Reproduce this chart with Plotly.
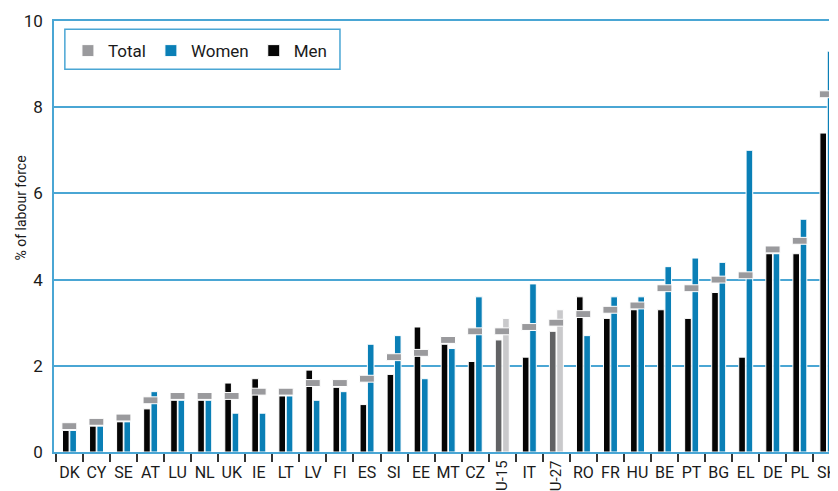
import plotly.graph_objects as go

# Unemployment by sex, % of labour force
countries = ["DK", "CY", "SE", "AT", "LU", "NL", "UK", "IE", "LT", "LV", "FI", "ES", "SI", "EE",
             "MT", "CZ", "EU-15", "IT", "EU-27", "RO", "FR", "HU", "BE", "PT", "BG", "EL", "DE",
             "PL", "SK"]
total = [0.6, 0.7, 0.8, 1.2, 1.3, 1.3, 1.3, 1.4, 1.4, 1.6, 1.6, 1.7, 2.2, 2.3, 2.6, 2.8,
         2.8, 2.9, 3.0, 3.2, 3.3, 3.4, 3.8, 3.8, 4.0, 4.1, 4.7, 4.9, 8.3]
women = [0.5, 0.6, 0.7, 1.4, 1.2, 1.2, 0.9, 0.9, 1.3, 1.2, 1.4, 2.5, 2.7, 1.7, 2.4, 3.6,
         3.1, 3.9, 3.3, 2.7, 3.6, 3.6, 4.3, 4.5, 4.4, 7.0, 4.6, 5.4, 9.3]
men = [0.5, 0.6, 0.7, 1.0, 1.2, 1.2, 1.6, 1.7, 1.3, 1.9, 1.5, 1.1, 1.8, 2.9, 2.5, 2.1,
       2.6, 2.2, 2.8, 3.6, 3.1, 3.3, 3.3, 3.1, 3.7, 2.2, 4.6, 4.6, 7.4]
aggregates = ["EU-15", "EU-27"]
y_ticks = [0, 2, 4, 6, 8, 10]

FONT = "Liberation Sans Narrow, Roboto, sans-serif"
BLUE = "#0a7fb6"
GRID = "#4aa6d4"
GREY = "#9a9a9d"
BLACK = "#050505"
TXT = "#1a1a1a"

men_colors = ["#616264" if c in aggregates else BLACK for c in countries]
women_colors = ["#c9c9cb" if c in aggregates else BLUE for c in countries]
marker_h = 0.16

fig = go.Figure()

fig.add_trace(go.Bar(
    x=countries, y=men, name="Men",
    offset=-0.256, width=0.245,
    marker=dict(color=men_colors, line=dict(color="white", width=1)),
    legendrank=3
))
fig.add_trace(go.Bar(
    x=countries, y=women, name="Women",
    offset=0.015, width=0.245,
    marker=dict(color=women_colors, line=dict(color="white", width=1)),
    legendrank=2
))
fig.add_trace(go.Bar(
    x=countries, y=[marker_h] * len(total), base=[t - marker_h / 2 for t in total],
    name="Total",
    offset=-0.278, width=0.55,
    marker=dict(color=GREY, line=dict(color="white", width=1)),
    legendrank=1
))

tick_text = ["" if c in aggregates else c for c in countries]

# page body adds an 8px offset, so the figure is sized to end at the window edge
fig.update_layout(
    width=830, height=483,
    margin=dict(l=46, r=0, t=13, b=39),
    paper_bgcolor="white", plot_bgcolor="white",
    barmode="overlay",
    font=dict(family=FONT, size=16, color=TXT),
    showlegend=True,
    legend=dict(
        orientation="h", x=0.018, y=0.972, xanchor="left", yanchor="top",
        bgcolor="rgba(0,0,0,0)", borderwidth=0,
        font=dict(family=FONT, size=17, color=TXT),
        traceorder="normal"
    ),
    xaxis=dict(
        type="category", range=[-0.57, 28.08],
        tickmode="array", tickvals=countries, ticktext=tick_text, tickangle=0,
        tickson="boundaries", ticks="outside", ticklen=8, tickwidth=1.5, tickcolor="#333333",
        ticklabelstandoff=5,
        showgrid=False, showline=True, linecolor=GRID, linewidth=1.5, mirror=True,
        tickfont=dict(family=FONT, size=16, color=TXT),
    ),
    yaxis=dict(
        range=[0, 10], tickvals=y_ticks,
        showgrid=True, gridcolor=GRID, gridwidth=1.5, zeroline=False,
        showline=True, linecolor=GRID, linewidth=1.5,
        ticks="", ticklabelstandoff=6,
        tickfont=dict(family=FONT, size=17, color=TXT),
    ),
    shapes=[dict(
        type="rect", xref="paper", yref="paper",
        x0=0.014, x1=0.369, y0=0.888, y1=0.981,
        line=dict(color=GRID, width=1.5), fillcolor="rgba(0,0,0,0)", layer="above"
    )],
)

# y-axis title
fig.add_annotation(
    text="% of labour force", textangle=-90,
    xref="paper", yref="paper", x=-0.042, y=0.566,
    xanchor="center", yanchor="middle", showarrow=False,
    font=dict(family=FONT, size=14, color=TXT)
)

# vertical labels for the EU aggregates
for agg in aggregates:
    fig.add_annotation(
        text=agg, textangle=-90,
        xref="x", yref="paper", x=agg, y=-0.016,
        xanchor="center", yanchor="top", showarrow=False,
        font=dict(family=FONT, size=15, color=TXT)
    )

fig.write_html("out.html")
